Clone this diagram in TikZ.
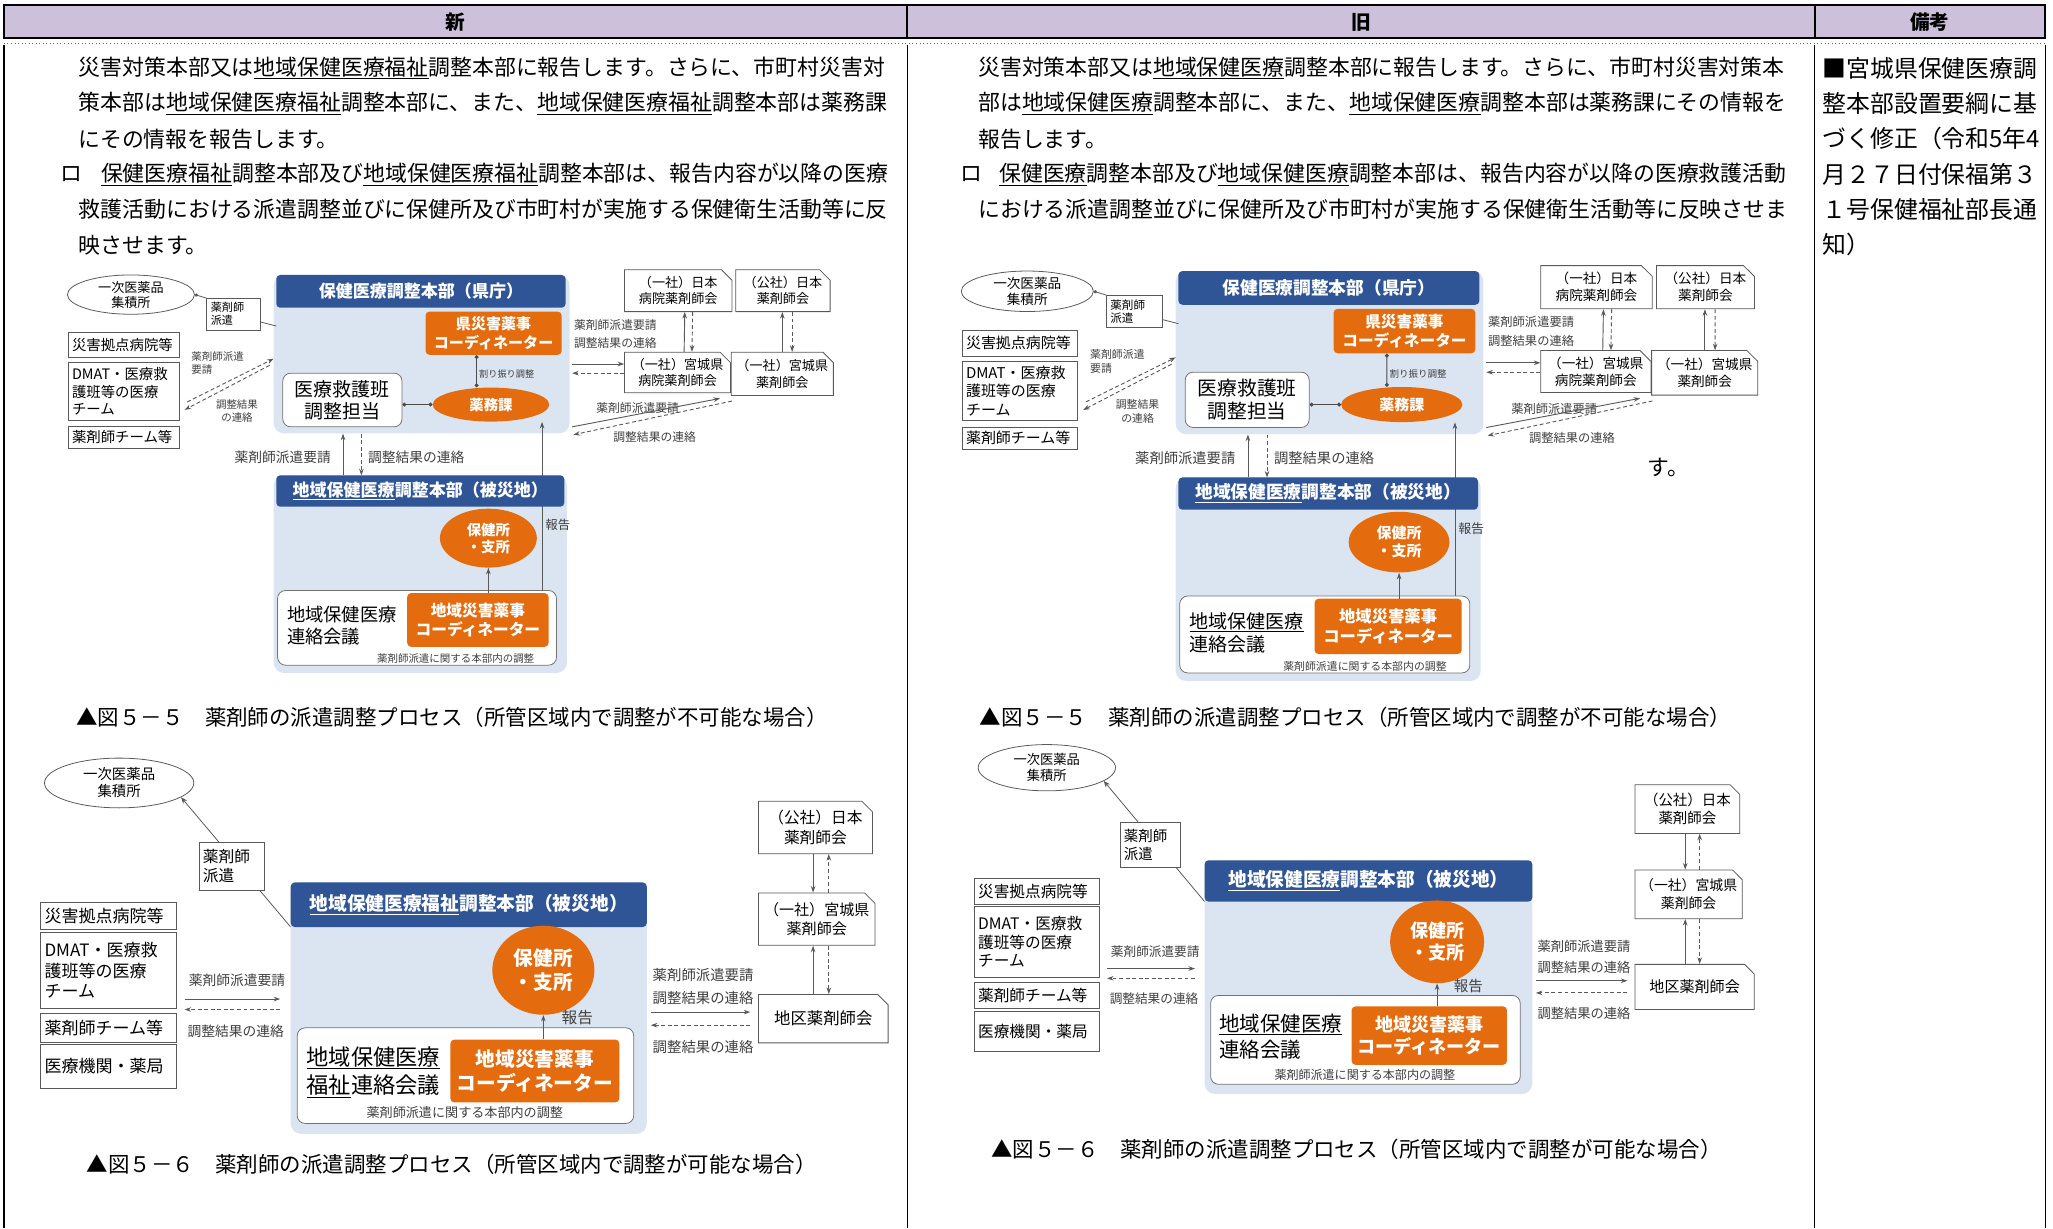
\documentclass[tikz,border=0pt]{standalone}
\usepackage{fontspec}
\setmainfont{Noto Sans CJK JP}
\usetikzlibrary{arrows.meta,shapes.geometric,shapes.misc}
\definecolor{hdlav}{RGB}{204,192,218}
\definecolor{hdblue}{RGB}{47,85,151}
\definecolor{pnblue}{RGB}{219,229,241}
\definecolor{orng}{RGB}{228,108,14}
\newcommand\fsz[2]{\fontsize{#1}{#2}\selectfont}
\tikzset{
 panel/.style={fill=pnblue, rounded corners=8pt, inner sep=0pt},
 bluehd/.style={fill=hdblue, text=white, rounded corners=3pt, inner sep=0pt},
 orbox/.style={fill=orng, text=white, rounded corners=3pt, inner sep=0pt, align=center},
 orell/.style={ellipse, fill=orng, text=white, inner sep=0pt, align=center},
 wbox/.style={draw=black!55, fill=white, rounded corners=6pt, line width=0.6pt, inner sep=0pt},
 pbox/.style={draw=black!65, fill=white, line width=0.6pt, inner sep=3pt, align=left},
 ellbox/.style={ellipse, draw=black!65, fill=white, line width=0.6pt, inner sep=0pt, align=center},
 card/.style={chamfered rectangle, chamfered rectangle corners=north east, chamfered rectangle xsep=4pt, chamfered rectangle ysep=4pt, draw=black!65, fill=white, line width=0.6pt, inner sep=0pt, align=center},
 lbl/.style={inner sep=0pt, text=black!75},
 thinl/.style={draw=black!65, line width=0.6pt},
 dotc/.style={draw=black!70, line width=0.7pt, {Circle[length=3pt]}-{Circle[length=3pt]}},
 arr/.style={draw=black!65, line width=0.7pt, -{Stealth[length=5pt,width=3.5pt]}},
 darr/.style={arr, dash pattern=on 3pt off 2pt},
 body/.style={anchor=west, inner sep=0pt, font=\fsz{16.7}{20}},
 capt/.style={anchor=west, inner sep=0pt, font=\fsz{16.4}{20}},
 rem/.style={anchor=west, inner sep=0pt, font=\fsz{18.2}{21}}
}
% ---------- figure 5-5 (not possible within area) ----------
\newcommand\figA[2]{%
\node[panel, minimum width=226pt, minimum height=121pt] (#1panU) at (322,270.5) {};
\node[panel, minimum width=224pt, minimum height=151pt] (#1panL) at (321,438.5) {};
\node[bluehd, minimum width=221pt, minimum height=25pt, font=\fsz{13}{13}\bfseries] (#1headU) at (321.5,222.5) {保健医療調整本部（県庁）};
\node[orbox, minimum width=104pt, minimum height=33pt, font=\fsz{11.5}{14}\bfseries] (#1coord) at (377,254.5) {県災害薬事\\コーディネーター};
\node[wbox, minimum width=91pt, minimum height=41pt, font=\fsz{14.5}{17}, align=center] (#1iken) at (261.5,305.5) {医療救護班\\調整担当};
\node[orell, minimum width=89pt, minimum height=26pt, font=\fsz{11}{13}\bfseries] (#1mu) at (375,309) {薬務課};
\node[lbl, font=\fsz{7}{8}] (#1lwari) at (387,286) {割り振り調整};
\coordinate (#1rp) at (414,453);
\draw[arr] (#1rp) -- (#1rp |- #1mu.south);
\node[bluehd, minimum width=220pt, minimum height=24pt, font=\fsz{13}{13}\bfseries] (#1headL) at (321,375) {\underline{地域保健医療}調整本部（被災地）};
\node[ellbox, minimum width=97pt, minimum height=30pt, font=\fsz{10}{11.5}] (#1ell) at (100,225) {一次医薬品\\集積所};
\node[pbox, text width=35pt, minimum height=24pt, font=\fsz{8.5}{10}] (#1haken) at (178.5,240) {薬剤師\\派遣};
\node[pbox, text width=79pt, minimum height=19pt, font=\fsz{11}{13}] (#1L1) at (94.5,263.5) {災害拠点病院等};
\node[pbox, text width=79pt, minimum height=44pt, font=\fsz{11}{13.5}] (#1L2) at (94.5,299) {DMAT・医療救\\護班等の医療\\チーム};
\node[pbox, text width=79pt, minimum height=16pt, font=\fsz{11}{13}] (#1L3) at (94.5,334) {薬剤師チーム等};
\node[card, minimum width=82pt, minimum height=32pt, font=\fsz{10}{12.5}] (#1r1) at (518,222) {（一社）日本\\病院薬剤師会};
\node[card, minimum width=72pt, minimum height=32pt, font=\fsz{10}{12.5}] (#1r2) at (598,222) {（公社）日本\\薬剤師会};
\node[card, minimum width=81pt, minimum height=31pt, font=\fsz{10}{12.5}] (#1r3) at (517.5,284.5) {（一社）宮城県\\病院薬剤師会};
\node[card, minimum width=73pt, minimum height=33pt, font=\fsz{10}{12.5}] (#1r4) at (597.5,285.5) {（一社）宮城県\\薬剤師会};
\node[orell, minimum width=74pt, minimum height=45pt, font=\fsz{11}{13}\bfseries] (#1hos) at (373,411) {保健所\\・支所};
\node[lbl, font=\fsz{9.5}{10}] (#1lrep) at (426,401) {報告};
\node[wbox, minimum width=213pt, minimum height=57pt] (#1in) at (318.5,479.5) {};
\node[anchor=west, inner sep=0pt, align=left, font=\fsz{14}{17}] (#1meet) at (219,478) {#2};
\node[orbox, minimum width=108pt, minimum height=41pt, font=\fsz{12}{15}\bfseries] (#1cl) at (365,473.5) {地域災害薬事\\コーディネーター};
\node[lbl, font=\fsz{8}{9}] (#1small) at (348,503) {薬剤師派遣に関する本部内の調整};
\node[lbl, anchor=west, align=left, font=\fsz{8}{10}] (#1lqL) at (146,277) {薬剤師派遣\\要請};
\node[lbl, align=center, font=\fsz{8}{10}] (#1lrL) at (181,314) {調整結果\\の連絡};
\node[lbl, font=\fsz{9}{10}] (#1lqR) at (470,248) {薬剤師派遣要請};
\node[lbl, font=\fsz{9}{10}] (#1lrR) at (470,262) {調整結果の連絡};
\node[lbl, font=\fsz{9}{10}] (#1lqR2) at (487,312) {薬剤師派遣要請};
\node[lbl, font=\fsz{9}{10}] (#1lrR2) at (500,334) {調整結果の連絡};
\node[lbl, font=\fsz{10.5}{11}] (#1lqM) at (216,349) {薬剤師派遣要請};
\node[lbl, font=\fsz{10.5}{11}] (#1lrM) at (318,349) {調整結果の連絡};
% connectors
\coordinate (#1hk) at (211,249);
\draw[thinl] ([yshift=-6pt]#1haken.east) -- (#1hk);
\draw[thinl, -{Circle[length=2.5pt]}] (#1haken.north west) -- (#1ell.east);
\coordinate (#1la1) at (143,307); \coordinate (#1la2) at (209,274);
\coordinate (#1lb1) at (206,279); \coordinate (#1lb2) at (141,313);
\draw[darr] (#1la1) -- (#1la2);
\draw[darr] (#1lb1) -- (#1lb2);
\draw[dotc] ([xshift=-13pt]#1coord.south) -- ([xshift=-11pt]#1mu.north);
\draw[dotc] (#1iken.east |- #1mu.west) -- (#1mu.west);
\coordinate (#1h1) at (437,278); \coordinate (#1h2) at (437,285);
\draw[arr] (#1h1) -- (#1h1 -| #1r3.west);
\draw[darr] (#1h2 -| #1r3.west) -- (#1h2);
\coordinate (#1d1) at (437,326); \coordinate (#1d2) at (438,332);
\draw[arr] (#1d1) -- ([xshift=-47.5pt,yshift=-2pt]#1r4.south);
\draw[darr] ([xshift=-38.5pt,yshift=-4pt]#1r4.south) -- (#1d2);
\draw[arr] ([xshift=5pt]#1r3.north) -- ([xshift=5pt]#1r1.south);
\draw[darr] ([xshift=11pt]#1r1.south) -- ([xshift=11pt]#1r3.north);
\draw[arr] (#1r4.north) -- (#1r4.north |- #1r2.south);
\draw[darr] ([xshift=7pt]#1r2.south) -- ([xshift=7.5pt]#1r4.north);
\coordinate (#1v1) at (262,363); \coordinate (#1v2) at (276,363);
\draw[arr] (#1v1) -- (#1v1 |- #1panU.south);
\draw[darr] (#1v2 |- #1panU.south) -- (#1v2);
\draw[arr] (#1cl.north -| #1hos.south) -- (#1hos.south);
}
% ---------- figure 5-6 (possible within area) ----------
\newcommand\figB[3]{%
\node[ellbox, minimum width=114pt, minimum height=38pt, font=\fsz{11}{13}] (#1ell) at (91,598) {一次医薬品\\集積所};
\coordinate (#1st) at (222,708);
\draw[thinl, -{Stealth[length=5pt,width=4pt]}] (#1st) -- (#1ell.-13);
\node[pbox, text width=44pt, minimum height=37pt, font=\fsz{12}{15}] (#1haken) at (177,661.5) {薬剤師\\派遣};
\node[panel, minimum width=272pt, minimum height=192pt] (#1pan) at (358,770) {};
\node[bluehd, minimum width=272pt, minimum height=34pt] (#1head) at (358,691) {#2};
\node[orell, minimum width=78pt, minimum height=68pt, font=\fsz{15}{18}\bfseries] (#1hos) at (415,741) {保健所\\・支所};
\node[lbl, font=\fsz{12}{13}] (#1rep) at (441,777) {報告};
\node[wbox, minimum width=257pt, minimum height=73pt] (#1in) at (355.5,821.5) {};
\node[anchor=west, inner sep=0pt, align=left, font=\fsz{17}{22}] (#1meet) at (234,819) {#3};
\node[orbox, minimum width=129pt, minimum height=48pt, font=\fsz{15}{18}\bfseries] (#1co) at (408.5,818) {地域災害薬事\\コーディネーター};
\node[lbl, font=\fsz{10}{11}] (#1small) at (355,850) {薬剤師派遣に関する本部内の調整};
\draw[arr] (#1co.north -| #1hos.south) -- (#1hos.south);
\node[pbox, text width=98pt, minimum height=21pt, font=\fsz{13}{15.3}] (#1L1) at (83,699.5) {災害拠点病院等};
\node[pbox, text width=98pt, minimum height=58pt, font=\fsz{13}{15.3}] (#1L2) at (83,741) {DMAT・医療救\\護班等の医療\\チーム};
\node[pbox, text width=98pt, minimum height=22pt, font=\fsz{13}{15.3}] (#1L3) at (83,785) {薬剤師チーム等};
\node[pbox, text width=98pt, minimum height=33pt, font=\fsz{13}{15.3}] (#1L4) at (83,814.5) {医療機関・薬局};
\node[lbl, font=\fsz{10.5}{11}] (#1lqL) at (181,749) {薬剤師派遣要請};
\node[lbl, font=\fsz{10.5}{11}] (#1lrL) at (180,788) {調整結果の連絡};
\coordinate (#1la1) at (141,763); \coordinate (#1la2) at (214,763);
\coordinate (#1lb1) at (214,771); \coordinate (#1lb2) at (141,771);
\draw[arr] (#1la1) -- (#1la2);
\draw[darr] (#1lb1) -- (#1lb2);
\node[card, anchor=west, minimum width=87pt, minimum height=40pt, font=\fsz{12}{15}] (#1r1) at (579,632) {（公社）日本\\薬剤師会};
\node[card, anchor=west, minimum width=89pt, minimum height=40pt, font=\fsz{11.5}{15}] (#1r2) at (579,702) {（一社）宮城県\\薬剤師会};
\node[card, anchor=west, minimum width=99pt, minimum height=37pt, font=\fsz{12.5}{15}] (#1r3) at (579,778) {地区薬剤師会};
\coordinate (#1xa) at (621,700); \coordinate (#1xb) at (633,700);
\draw[arr] (#1r1.south -| #1xa) -- (#1r2.north -| #1xa);
\draw[darr] (#1r2.north -| #1xb) -- (#1r1.south -| #1xb);
\draw[arr] (#1r3.north -| #1xa) -- (#1r2.south -| #1xa);
\draw[darr] (#1r2.south -| #1xb) -- (#1r3.north -| #1xb);
\node[lbl, font=\fsz{11}{12}] (#1lqR) at (537,745) {薬剤師派遣要請};
\node[lbl, font=\fsz{11}{12}] (#1lrR) at (537,762) {調整結果の連絡};
\node[lbl, font=\fsz{11}{12}] (#1lrR2) at (537,800) {調整結果の連絡};
\coordinate (#1ra1) at (497,773); \coordinate (#1ra2) at (573,773);
\coordinate (#1rb1) at (573,783); \coordinate (#1rb2) at (497,783);
\draw[arr] (#1ra1) -- (#1ra2);
\draw[darr] (#1rb1) -- (#1rb2);
}
\begin{document}
\begin{tikzpicture}[x=1pt,y=-1pt]
\useasboundingbox (0,0) rectangle (1568,938);
\fill[white] (0,0) rectangle (1568,938);
% ---- table frame ----
\fill[hdlav] (3,4) rectangle (1562,29);
\node[font=\fsz{15}{15}\bfseries, inner sep=0pt] (hNew) at (348,17) {新};
\node[font=\fsz{15}{15}\bfseries, inner sep=0pt] (hOld) at (1040,17) {旧};
\node[font=\fsz{15}{15}\bfseries, inner sep=0pt] (hNote) at (1474,17) {備考};
\draw[line width=1.4pt] (3,4) rectangle (1562,29);
\draw[line width=1.4pt] (693,4) -- (693,29) (1386,4) -- (1386,29);
\draw[dotted, black!60, line width=0.7pt] (3,33) -- (1562,33);
\draw[line width=0.9pt] (3,34) -- (3,938) (693,34) -- (693,938) (1386,34) -- (1386,938) (1562,34) -- (1562,938);
% ---- new column text ----
\node[body] (n1) at (60,52) {災害対策本部又は\underline{地域保健医療福祉}調整本部に報告します。さらに、市町村災害対};
\node[body] (n2) at (60,79) {策本部は\underline{地域保健医療福祉}調整本部に、また、\underline{地域保健医療福祉}調整本部は薬務課};
\node[body] (n3) at (60,106) {にその情報を報告します。};
\node[body] (n4b) at (46,133) {ロ};
\node[body] (n4) at (77,133) {\underline{保健医療福祉}調整本部及び\underline{地域保健医療福祉}調整本部は、報告内容が以降の医療};
\node[body] (n5) at (60,160) {救護活動における派遣調整並びに保健所及び市町村が実施する保健衛生活動等に反};
\node[body] (n6) at (60,187) {映させます。};
% ---- old column text ----
\node[body] (o1) at (747,52) {災害対策本部又は\underline{地域保健医療}調整本部に報告します。さらに、市町村災害対策本};
\node[body] (o2) at (747,79) {部は\underline{地域保健医療}調整本部に、また、\underline{地域保健医療}調整本部は薬務課にその情報を};
\node[body] (o3) at (747,106) {報告します。};
\node[body] (o4b) at (733,133) {ロ};
\node[body] (o4) at (763,133) {\underline{保健医療}調整本部及び\underline{地域保健医療}調整本部は、報告内容が以降の医療救護活動};
\node[body] (o5) at (747,160) {における派遣調整並びに保健所及び市町村が実施する保健衛生活動等に反映させま};
\node[body] (o6) at (1258,357) {す。};
% ---- remarks ----
\node[rem] (r1) at (1392,52) {■宮城県保健医療調};
\node[rem] (r2) at (1392,79) {整本部設置要綱に基};
\node[rem] (r3) at (1392,106) {づく修正（令和5年4};
\node[rem] (r4) at (1392,133) {月２７日付保福第３};
\node[rem] (r5) at (1392,160) {１号保健福祉部長通};
\node[rem] (r6) at (1392,187) {知）};
% ---- figures ----
\figA{a}{地域保健医療\\連絡会議}
\begin{scope}[shift={(680.6,-9.3)}, xscale=1.04, yscale=1.03, transform shape]
\figA{b}{\underline{地域保健医療}\\連絡会議}
\end{scope}
\figB{c}{\fsz{14.3}{15}\bfseries\underline{地域保健医療福祉}調整本部（被災地）}{\underline{地域保健医療}\\\underline{福祉}連絡会議}
\begin{scope}[shift={(715.8,30.2)}, xscale=0.92, yscale=0.93, transform shape]
\figB{d}{\fsz{15.5}{16}\bfseries\underline{地域保健医療}調整本部（被災地）}{\underline{地域保健医療}\\連絡会議}
\end{scope}
% ---- captions ----
\node[capt] (c1) at (58,548) {▲図５－５　薬剤師の派遣調整プロセス（所管区域内で調整が不可能な場合）};
\node[capt] (c2) at (748,548) {▲図５－５　薬剤師の派遣調整プロセス（所管区域内で調整が不可能な場合）};
\node[capt] (c3) at (66,889) {▲図５－６　薬剤師の派遣調整プロセス（所管区域内で調整が可能な場合）};
\node[capt] (c4) at (757,878) {▲図５－６　薬剤師の派遣調整プロセス（所管区域内で調整が可能な場合）};
\end{tikzpicture}
\end{document}
